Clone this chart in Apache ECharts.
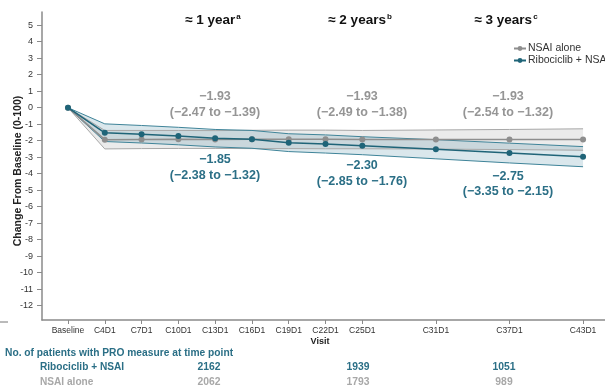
<!DOCTYPE html>
<html><head><meta charset="utf-8">
<script src="https://cdn.jsdelivr.net/npm/echarts@6/dist/echarts.min.js"></script>
<style>html,body{margin:0;padding:0;background:#fff}#c{width:605px;height:386px}</style>
</head><body><div id="c"></div>
<script>
// ---- data ----
const visits = ['Baseline','C4D1','C7D1','C10D1','C13D1','C16D1','C19D1','C22D1','C25D1','C31D1','C37D1','C43D1'];
const visitCycles = [1,4,7,10,13,16,19,22,25,31,37,43];
const yTicks = [5,4,3,2,1,0,-1,-2,-3,-4,-5,-6,-7,-8,-9,-10,-11,-12];

const nsaiMean  = [0,-1.94,-1.93,-1.92,-1.93,-1.92,-1.91,-1.91,-1.93,-1.93,-1.93,-1.93];
const nsaiLower = [0,-2.50,-2.48,-2.47,-2.47,-2.48,-2.48,-2.49,-2.49,-2.51,-2.54,-2.58];
const nsaiUpper = [0,-1.38,-1.38,-1.38,-1.39,-1.37,-1.36,-1.36,-1.38,-1.35,-1.32,-1.28];

const riboMean  = [0,-1.52,-1.61,-1.72,-1.85,-1.92,-2.12,-2.20,-2.30,-2.52,-2.75,-2.97];
const riboLower = [0,-2.05,-2.14,-2.25,-2.38,-2.46,-2.66,-2.75,-2.85,-3.10,-3.35,-3.58];
const riboUpper = [0,-0.98,-1.08,-1.19,-1.32,-1.38,-1.58,-1.65,-1.76,-1.94,-2.15,-2.36];

const periodTitles = ['≈ 1 year','≈ 2 years','≈ 3 years'];
const periodSup = ['a','b','c'];
const nsaiEst = ['−1.93','−1.93','−1.93'];
const nsaiCI  = ['(−2.47 to −1.39)','(−2.49 to −1.38)','(−2.54 to −1.32)'];
const riboEst = ['−1.85','−2.30','−2.75'];
const riboCI  = ['(−2.38 to −1.32)','(−2.85 to −1.76)','(−3.35 to −2.15)'];

const tableHeader = 'No. of patients with PRO measure at time point';
const riboName = 'Ribociclib + NSAI';
const nsaiName = 'NSAI alone';
const riboN = ['2162','1939','1051'];
const nsaiN = ['2062','1793','989'];

// ---- build ----
const pts = arr => visitCycles.map((c,i)=>[c,arr[i]]);
const bandData = (l,u) => visitCycles.map((c,i)=>[c,l[i],u[i]]);
function bandRender(lower, upper, fill){
  return function(params, api){
    if (params.dataIndex !== 0) return null;
    const poly = [];
    for (let i=0;i<visitCycles.length;i++) poly.push(api.coord([visitCycles[i], upper[i]]));
    for (let i=visitCycles.length-1;i>=0;i--) poly.push(api.coord([visitCycles[i], lower[i]]));
    return {type:'polygon', shape:{points:poly}, style:{fill:fill}, silent:true};
  };
}

const TEAL = '#1f6478', TEAL_T = '#2b6f86', GRAY = '#8e8e8e', GRAY_T='#959595';
const F = 'Liberation Sans, Arial, sans-serif';

const chart = echarts.init(document.getElementById('c'), null, {renderer:'canvas'});

const colX = [215, 362, 508];
const graphics = [];
periodTitles.forEach((t,i)=>{
  graphics.push({type:'text', x: colX[i]-2, y: 20, style:{
    text: '{m|'+t+'}{s|'+periodSup[i]+'}', rich:{m:{fontSize:13.5,fontWeight:'bold',fill:'#111',fontFamily:F}, s:{fontSize:8,fontWeight:'bold',fill:'#111',verticalAlign:'top',padding:[0,0,6,1],fontFamily:F}},
    align:'center', verticalAlign:'middle'}});
  graphics.push({type:'text', x: colX[i], y: 97, style:{text:nsaiEst[i], font:'bold 12.5px '+F, fill:GRAY_T, align:'center', verticalAlign:'middle'}});
  graphics.push({type:'text', x: colX[i], y: 113, style:{text:nsaiCI[i], font:'bold 12.5px '+F, fill:GRAY_T, align:'center', verticalAlign:'middle'}});
});
const riboY = [[160,176],[166,182],[177,192]];
riboEst.forEach((t,i)=>{
  graphics.push({type:'text', x: colX[i], y: riboY[i][0], style:{text:t, font:'bold 12.5px '+F, fill:TEAL_T, align:'center', verticalAlign:'middle'}});
  graphics.push({type:'text', x: colX[i], y: riboY[i][1], style:{text:riboCI[i], font:'bold 12.5px '+F, fill:TEAL_T, align:'center', verticalAlign:'middle'}});
});
graphics.push({type:'text', x: 18, y: 171, rotation: Math.PI/2, style:{text:'Change From Baseline (0-100)', font:'bold 10.5px '+F, fill:'#222', align:'center', verticalAlign:'middle'}});
graphics.push({type:'text', x: 320, y: 342, style:{text:'Visit', font:'bold 9px '+F, fill:'#222', align:'center', verticalAlign:'middle'}});
graphics.push({type:'line', shape:{x1:0,y1:322,x2:8,y2:322}, style:{stroke:'#777',lineWidth:1}});
graphics.push({type:'text', x: 5, y: 353, scaleX:0.89, style:{text:tableHeader, font:'bold 11.5px '+F, fill:TEAL_T, align:'left', verticalAlign:'middle'}});
graphics.push({type:'text', x: 40, y: 367, scaleX:0.88, style:{text:riboName, font:'bold 11.5px '+F, fill:TEAL_T, align:'left', verticalAlign:'middle'}});
graphics.push({type:'text', x: 40, y: 382, scaleX:0.88, style:{text:nsaiName, font:'bold 11.5px '+F, fill:'#a8a8a8', align:'left', verticalAlign:'middle'}});
const nX = [209, 358, 504];
riboN.forEach((t,i)=>{
  graphics.push({type:'text', x: nX[i], y: 367, scaleX:0.9, style:{text:t, font:'bold 11.5px '+F, fill:TEAL_T, align:'center', verticalAlign:'middle'}});
  graphics.push({type:'text', x: nX[i], y: 382, scaleX:0.9, style:{text:nsaiN[i], font:'bold 11.5px '+F, fill:'#a8a8a8', align:'center', verticalAlign:'middle'}});
});

const option = {
  animation:false,
  backgroundColor:'#fff',
  grid:{left:42, right:0, top:12, bottom:66, containLabel:false},
  legend:{
    data:[nsaiName, riboName], orient:'vertical', left:508, top:38,
    itemWidth:12, itemHeight:6, itemGap:1,
    textStyle:{fontSize:10.5, color:'#333', fontFamily:F, padding:[0,0,0,-3]}
  },
  xAxis:{
    type:'value', min:-1.12, max:44.79,
    axisLine:{show:true, onZero:false, lineStyle:{color:'#8a8a8a', width:1.5}},
    axisTick:{show:true, customValues:visitCycles, length:4, lineStyle:{color:'#8a8a8a'}},
    axisLabel:{customValues:visitCycles, formatter:v=>visits[visitCycles.indexOf(v)], fontSize:8.5, color:'#333', fontFamily:F, margin:6},
    splitLine:{show:false}
  },
  yAxis:{
    type:'value', min:-12.87, max:5.8,
    axisLine:{show:true, onZero:false, lineStyle:{color:'#8a8a8a', width:1.5}},
    axisTick:{show:true, customValues:yTicks, length:5, lineStyle:{color:'#8a8a8a'}},
    axisLabel:{customValues:yTicks, fontSize:9, color:'#333', fontFamily:F, margin:9},
    splitLine:{show:false}
  },
  series:[
    {name:'nsaiBand', type:'custom', data:bandData(nsaiLower,nsaiUpper), renderItem:bandRender(nsaiLower,nsaiUpper,'rgba(175,175,175,0.25)'), z:1},
    {name:'riboBand', type:'custom', data:bandData(riboLower,riboUpper), renderItem:bandRender(riboLower,riboUpper,'rgba(70,135,160,0.2)'), z:2},
    {name:'nsaiL', type:'line', data:pts(nsaiLower), symbol:'none', lineStyle:{color:'#a8a8a8', width:1}, z:2},
    {name:'nsaiU', type:'line', data:pts(nsaiUpper), symbol:'none', lineStyle:{color:'#a8a8a8', width:1}, z:2},
    {name:'riboL', type:'line', data:pts(riboLower), symbol:'none', lineStyle:{color:'#3f8499', width:1}, z:2},
    {name:'riboU', type:'line', data:pts(riboUpper), symbol:'none', lineStyle:{color:'#3f8499', width:1}, z:2},
    {name:riboName, type:'line', data:pts(riboMean), symbol:'circle', symbolSize:6, color:TEAL, lineStyle:{color:TEAL, width:1.5}, itemStyle:{color:TEAL}, z:4},
    {name:nsaiName, type:'line', data:pts(nsaiMean), symbol:'circle', symbolSize:6, color:GRAY, lineStyle:{color:GRAY, width:1.5}, itemStyle:{color:GRAY}, z:3}
  ],
  graphic: graphics
};
chart.setOption(option);
</script></body></html>
